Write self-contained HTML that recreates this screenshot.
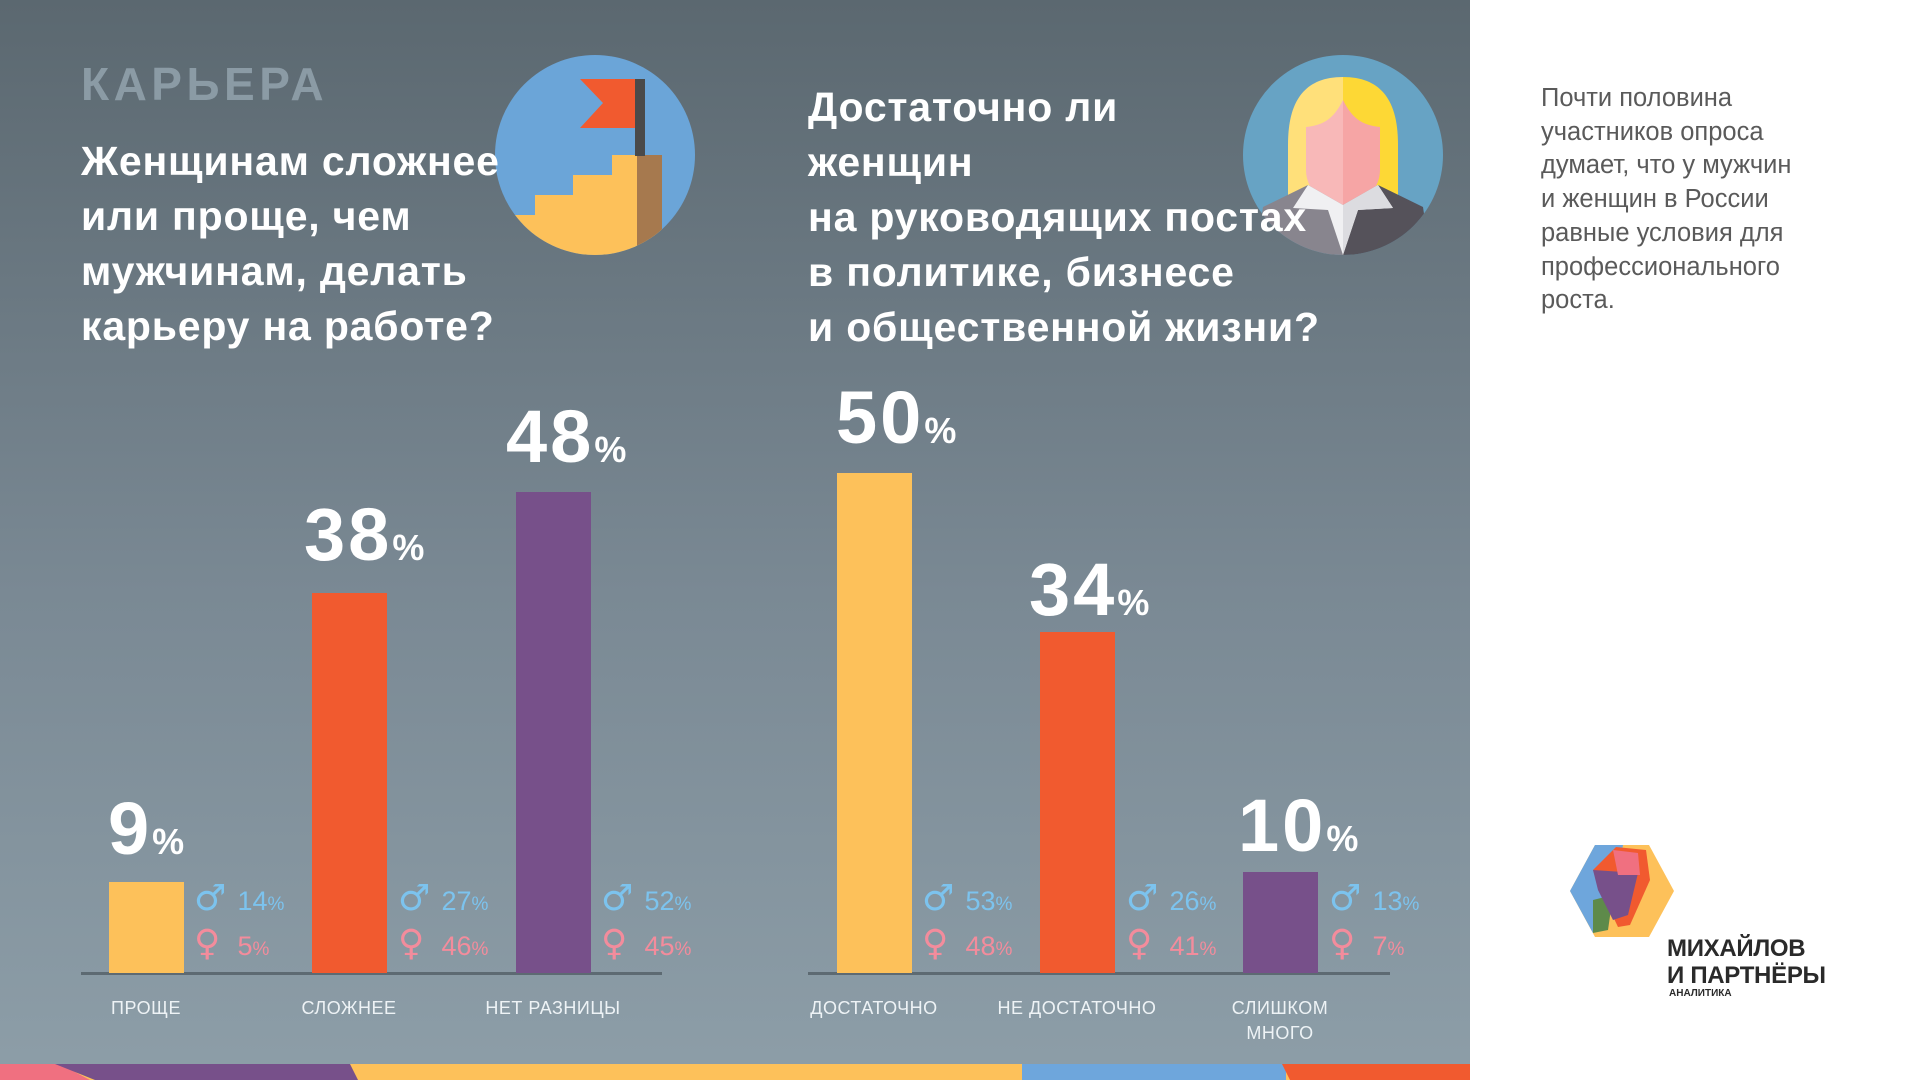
<!DOCTYPE html>
<html><head><meta charset="utf-8"><style>
*{margin:0;padding:0;box-sizing:border-box}
body{width:1921px;height:1080px;overflow:hidden;background:#fff;font-family:"Liberation Sans",sans-serif;position:relative}
#panel{position:absolute;left:0;top:0;width:1470px;height:1080px;background:linear-gradient(#5b6870,#7a8994 55%,#8d9ea8)}
.a{position:absolute;white-space:nowrap}
.q{color:#fff;font-weight:bold;font-size:41px;line-height:55px;letter-spacing:0.8px}
.bar{position:absolute;width:75px}
.big{position:absolute;color:#fff;font-weight:bold;font-size:74px;line-height:74px;letter-spacing:3px}
.big span{font-size:36px;letter-spacing:0}
.m{position:absolute;color:#7cc3ee;font-size:27px;line-height:30px}
.f{position:absolute;color:#f38c9c;font-size:27px;line-height:30px}
.m b,.f b{font-family:"DejaVu Sans",sans-serif;font-size:36px;font-weight:bold;display:inline-block;width:36px}
.m span,.f span{font-size:19px}
.cat{position:absolute;color:#eef3f6;font-size:18px;line-height:25px;text-align:center;width:200px;letter-spacing:0.5px}
.base{position:absolute;height:3px;background:#5d6a72;top:972px}
</style></head><body>
<div id="panel"></div>

<svg class="a" style="left:495px;top:55px" width="200" height="200" viewBox="0 0 200 200">
<defs><clipPath id="c1"><circle cx="100" cy="100" r="100"/></clipPath></defs>
<circle cx="100" cy="100" r="100" fill="#6ba5d8"/>
<g clip-path="url(#c1)">
<polygon points="0,160 40,160 40,140 78,140 78,120 117,120 117,100 167,100 167,200 0,200" fill="#fdc15a"/>
<rect x="142" y="100" width="25" height="100" fill="#a6794e"/>
<rect x="140" y="24" width="10" height="77" fill="#4a4a4a"/>
<polygon points="85,24 140,24 140,73 85,73 108,48" fill="#f15a2f"/>
</g></svg>

<svg class="a" style="left:1243px;top:55px" width="200" height="200" viewBox="0 0 200 200">
<defs><clipPath id="c2"><circle cx="100" cy="100" r="100"/></clipPath></defs>
<circle cx="100" cy="100" r="100" fill="#67a3c4"/>
<g clip-path="url(#c2)">
<path d="M100,22 C55,22 45,55 45,90 L45,140 L100,140Z" fill="#ffe07a"/>
<path d="M100,22 C145,22 155,55 155,90 L155,140 L100,140Z" fill="#fdd835"/>
<path d="M100,45 C90,65 80,70 63,72 L63,115 C63,135 80,150 100,150Z" fill="#f8b8b8"/>
<path d="M100,45 C110,65 120,70 137,72 L137,115 C137,135 120,150 100,150Z" fill="#f6a5a5"/>
<polygon points="20,152 65,130 100,150 100,220 10,220" fill="#88858e"/>
<polygon points="180,152 135,130 100,150 100,220 190,220" fill="#55525a"/>
<polygon points="65,130 100,150 135,130 150,153 115,155 100,200 85,155 50,153" fill="#f0f0f2"/>
<polygon points="100,150 135,130 150,153 115,155 100,200" fill="#dcdce0"/>
</g></svg>

<div class="a" style="left:81px;top:57px;font-size:46px;font-weight:bold;color:#8b9ba5;letter-spacing:4.5px">КАРЬЕРА</div>
<div class="a q" style="left:81px;top:134px">Женщинам сложнее<br>или проще, чем<br>мужчинам, делать<br>карьеру на работе?</div>
<div class="a q" style="left:808px;top:80px">Достаточно ли<br>женщин<br>на руководящих постах<br>в политике, бизнесе<br>и общественной жизни?</div>

<div class="a" style="left:1541px;top:82px;font-size:25.5px;line-height:33.7px;color:#5a5a5a">Почти половина<br>участников опроса<br>думает, что у мужчин<br>и женщин в России<br>равные условия для<br>профессионального<br>роста.</div>

<div class="base" style="left:81px;width:581px"></div>
<div class="base" style="left:808px;width:582px"></div>

<div class="bar" style="left:109px;top:882px;height:91px;background:#fdc15a"></div>
<div class="bar" style="left:312px;top:593px;height:380px;background:#f15a2f"></div>
<div class="bar" style="left:516px;top:492px;height:481px;background:#77508a"></div>
<div class="bar" style="left:837px;top:473px;height:500px;background:#fdc15a"></div>
<div class="bar" style="left:1040px;top:632px;height:341px;background:#f15a2f"></div>
<div class="bar" style="left:1243px;top:872px;height:101px;background:#77508a"></div>

<div class="big" style="left:108px;top:792px">9<span>%</span></div>
<div class="big" style="left:304px;top:498px">38<span>%</span></div>
<div class="big" style="left:506px;top:400px">48<span>%</span></div>
<div class="big" style="left:836px;top:381px">50<span>%</span></div>
<div class="big" style="left:1029px;top:553px">34<span>%</span></div>
<div class="big" style="left:1238px;top:789px">10<span>%</span></div>

<div class="m" style="left:194px;top:884px"><b>♂</b> 14<span>%</span></div>
<div class="f" style="left:194px;top:929px"><b>♀</b> 5<span>%</span></div>
<div class="m" style="left:398px;top:884px"><b>♂</b> 27<span>%</span></div>
<div class="f" style="left:398px;top:929px"><b>♀</b> 46<span>%</span></div>
<div class="m" style="left:601px;top:884px"><b>♂</b> 52<span>%</span></div>
<div class="f" style="left:601px;top:929px"><b>♀</b> 45<span>%</span></div>
<div class="m" style="left:922px;top:884px"><b>♂</b> 53<span>%</span></div>
<div class="f" style="left:922px;top:929px"><b>♀</b> 48<span>%</span></div>
<div class="m" style="left:1126px;top:884px"><b>♂</b> 26<span>%</span></div>
<div class="f" style="left:1126px;top:929px"><b>♀</b> 41<span>%</span></div>
<div class="m" style="left:1329px;top:884px"><b>♂</b> 13<span>%</span></div>
<div class="f" style="left:1329px;top:929px"><b>♀</b> 7<span>%</span></div>

<div class="cat" style="left:46px;top:996px">ПРОЩЕ</div>
<div class="cat" style="left:249px;top:996px">СЛОЖНЕЕ</div>
<div class="cat" style="left:453px;top:996px">НЕТ РАЗНИЦЫ</div>
<div class="cat" style="left:774px;top:996px">ДОСТАТОЧНО</div>
<div class="cat" style="left:977px;top:996px">НЕ ДОСТАТОЧНО</div>
<div class="cat" style="left:1180px;top:996px">СЛИШКОМ<br>МНОГО</div>

<svg class="a" style="left:0;top:1064px" width="1470" height="16" viewBox="0 0 1470 16">
<rect x="0" y="0" width="1470" height="16" fill="#fdc15a"/>
<polygon points="0,0 60,0 90,16 0,16" fill="#f07080"/>
<polygon points="55,0 350,0 358,16 95,16" fill="#77508a"/>
<rect x="1022" y="0" width="264" height="16" fill="#6ea6dc"/>
<polygon points="1282,0 1470,0 1470,16 1290,16" fill="#f15a2f"/>
</svg>

<svg class="a" style="left:1568px;top:845px" width="108" height="92" viewBox="0 0 108 92">
<polygon points="27,0 81,0 106,46 81,92 27,92 2,46" fill="#fdc15a"/>
<polygon points="27,0 55,0 40,80 25,88 2,46" fill="#6ea6dc"/>
<polygon points="25,55 45,50 40,85 25,88" fill="#5e8a4a"/>
<path d="M48,2 L78,5 L82,35 L62,80 L50,82 L30,40 L25,25 Z" fill="#f15a2f"/>
<path d="M25,25 L70,28 L60,70 L45,75 L30,45 Z" fill="#77508a"/>
<path d="M45,5 L70,8 L72,30 L50,30 Z" fill="#f07080"/>
</svg>
<div class="a" style="left:1667px;top:935px;font-size:24px;line-height:27px;font-weight:bold;color:#2a2a2a;letter-spacing:-0.3px">МИХАЙЛОВ<br>И ПАРТНЁРЫ</div>
<div class="a" style="left:1669px;top:988px;font-size:10px;font-weight:bold;color:#2a2a2a">АНАЛИТИКА</div>
</body></html>
